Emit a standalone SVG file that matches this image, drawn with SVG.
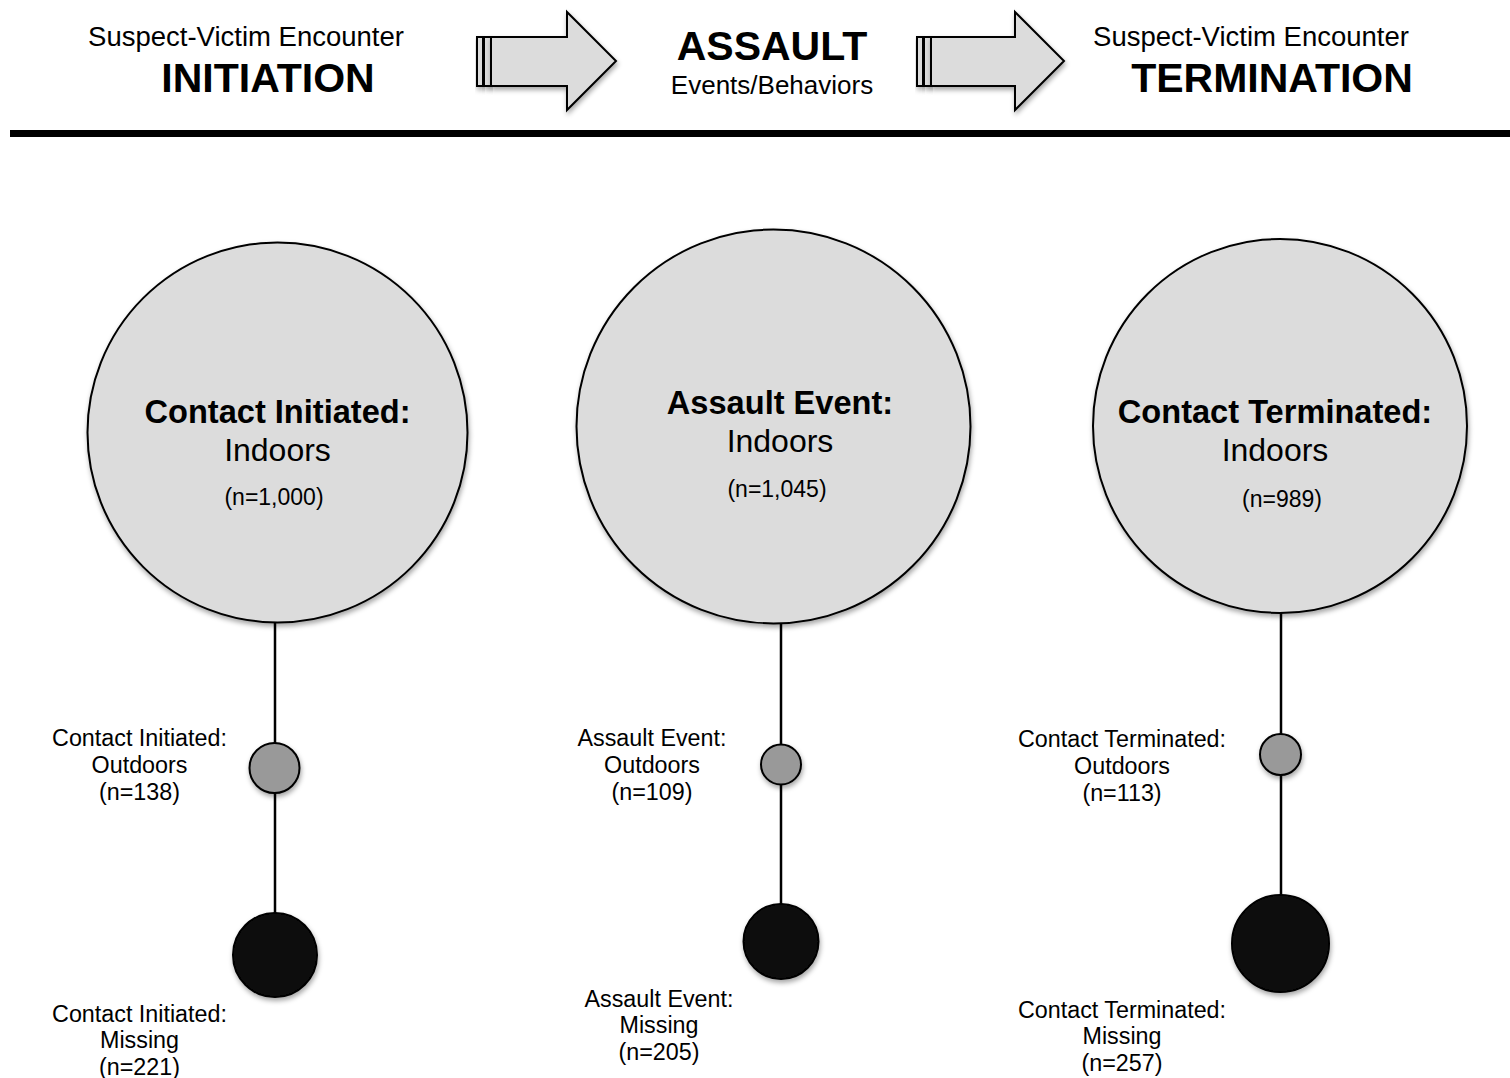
<svg xmlns="http://www.w3.org/2000/svg" width="1510" height="1078" viewBox="0 0 1510 1078">
  <defs>
    <filter id="shadow" x="-20%" y="-20%" width="140%" height="140%">
      <feDropShadow dx="1" dy="3" stdDeviation="2.5" flood-color="#000" flood-opacity="0.35"/>
    </filter>
    <style>
      text { font-family: "Liberation Sans", Arial, sans-serif; fill: #000; text-anchor: middle; }
      .hdr { font-size: 27.5px; }
      .hdr-b { font-size: 41px; font-weight: bold; }
      .big-b { font-size: 32.6px; font-weight: bold; }
      .big { font-size: 32px; }
      .big-n { font-size: 23px; }
      .lbl { font-size: 23.3px; }
      .arrow { fill: #dcdcdc; stroke: #000; stroke-width: 2; stroke-linejoin: miter; filter: url(#shadow); }
      .main { fill: #dcdcdc; stroke: #000; stroke-width: 2; filter: url(#shadow); }
      .mid { fill: #999999; stroke: #000; stroke-width: 2; filter: url(#shadow); }
      .miss { fill: #111111; stroke: #000; stroke-width: 2; filter: url(#shadow); }
      .link { stroke: #000; stroke-width: 2.5; fill: none; }
    </style>
  </defs>

  <rect width="1510" height="1078" fill="#fff"/>

  <!-- Header stages -->
  <g id="header-initiation">
    <text class="hdr" x="246" y="46">Suspect-Victim Encounter</text>
    <text class="hdr-b" x="268" y="92">INITIATION</text>
  </g>
  <g id="arrow-1">
    <rect class="arrow" x="477" y="37" width="6" height="49"/>
    <rect class="arrow" x="484" y="37" width="7" height="49"/>
    <path class="arrow" d="M491,37 H567 V12 L616,61 L567,110 V86 H491 Z"/>
  </g>
  <g id="header-assault">
    <text class="hdr-b" x="772" y="60">ASSAULT</text>
    <text class="hdr" x="772" y="94" style="font-size:26px">Events/Behaviors</text>
  </g>
  <g id="arrow-2">
    <rect class="arrow" x="917" y="37" width="6" height="49"/>
    <rect class="arrow" x="924" y="37" width="7" height="49"/>
    <path class="arrow" d="M931,37 H1015 V12 L1064,61 L1015,110 V86 H931 Z"/>
  </g>
  <g id="header-termination">
    <text class="hdr" x="1251" y="46">Suspect-Victim Encounter</text>
    <text class="hdr-b" x="1272" y="92">TERMINATION</text>
  </g>

  <!-- Divider -->
  <rect x="10" y="130" width="1500" height="7" fill="#000"/>

  <!-- Connectors -->
  <g id="connectors">
    <line class="link" x1="275" y1="620" x2="275" y2="915"/>
    <line class="link" x1="781" y1="622" x2="781" y2="906"/>
    <line class="link" x1="1281" y1="611" x2="1281" y2="897"/>
  </g>

  <!-- Column 1: contact initiated -->
  <g id="initiated-indoors">
    <circle class="main" cx="277.5" cy="432.5" r="190"/>
    <text class="big-b" x="277.5" y="423">Contact Initiated:</text>
    <text class="big" x="277.5" y="461">Indoors</text>
    <text class="big-n" x="274" y="505">(n=1,000)</text>
  </g>
  <g id="initiated-outdoors">
    <circle class="mid" cx="274.5" cy="768" r="25"/>
    <text class="lbl" x="139.5" y="746">Contact Initiated:</text>
    <text class="lbl" x="139.5" y="773">Outdoors</text>
    <text class="lbl" x="139.5" y="800">(n=138)</text>
  </g>
  <g id="initiated-missing">
    <circle class="miss" cx="275" cy="955" r="42"/>
    <text class="lbl" x="139.5" y="1022">Contact Initiated:</text>
    <text class="lbl" x="139.5" y="1048">Missing</text>
    <text class="lbl" x="139.5" y="1075">(n=221)</text>
  </g>

  <!-- Column 2: assault event -->
  <g id="assault-indoors">
    <circle class="main" cx="773.5" cy="426.5" r="197"/>
    <text class="big-b" x="780" y="414">Assault Event:</text>
    <text class="big" x="780" y="452">Indoors</text>
    <text class="big-n" x="777" y="497">(n=1,045)</text>
  </g>
  <g id="assault-outdoors">
    <circle class="mid" cx="781" cy="764.5" r="20"/>
    <text class="lbl" x="652" y="746">Assault Event:</text>
    <text class="lbl" x="652" y="773">Outdoors</text>
    <text class="lbl" x="652" y="800">(n=109)</text>
  </g>
  <g id="assault-missing">
    <circle class="miss" cx="781" cy="941.5" r="37.5"/>
    <text class="lbl" x="659" y="1007">Assault Event:</text>
    <text class="lbl" x="659" y="1033">Missing</text>
    <text class="lbl" x="659" y="1060">(n=205)</text>
  </g>

  <!-- Column 3: contact terminated -->
  <g id="terminated-indoors">
    <circle class="main" cx="1280" cy="426" r="187"/>
    <text class="big-b" x="1275" y="423">Contact Terminated:</text>
    <text class="big" x="1275" y="461">Indoors</text>
    <text class="big-n" x="1282" y="507">(n=989)</text>
  </g>
  <g id="terminated-outdoors">
    <circle class="mid" cx="1280.5" cy="754.5" r="20.5"/>
    <text class="lbl" x="1122" y="747">Contact Terminated:</text>
    <text class="lbl" x="1122" y="774">Outdoors</text>
    <text class="lbl" x="1122" y="801">(n=113)</text>
  </g>
  <g id="terminated-missing">
    <circle class="miss" cx="1280.5" cy="943.5" r="48.5"/>
    <text class="lbl" x="1122" y="1018">Contact Terminated:</text>
    <text class="lbl" x="1122" y="1044">Missing</text>
    <text class="lbl" x="1122" y="1071">(n=257)</text>
  </g>
</svg>
